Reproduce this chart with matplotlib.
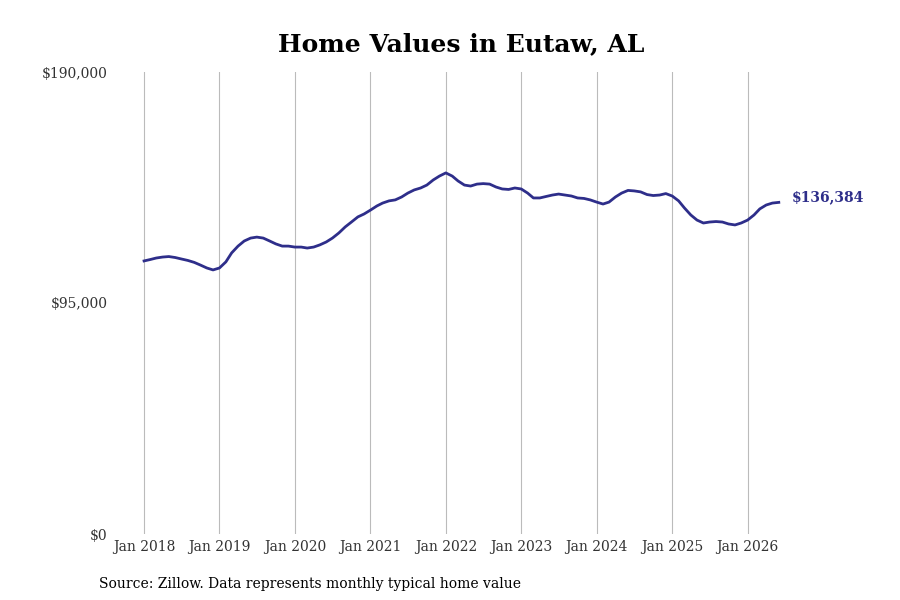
import matplotlib.pyplot as plt
import matplotlib.dates as mdates
import pandas as pd

# monthly typical home value, Jan 2018 - Jun 2026
values = [
    112300, 112900, 113500, 113900, 114100, 113700, 113100, 112500, 111700, 110600, 109400, 108600,
    109400, 111900, 115600, 118400, 120500, 121700, 122100, 121700, 120500, 119300, 118400, 118400,
    118000, 118000, 117600, 118000, 118900, 120100, 121700, 123800, 126300, 128300, 130400, 131600,
    133200, 134900, 136100, 137000, 137400, 138600, 140200, 141500, 142300, 143500, 145600, 147200,
    148500, 147200, 145200, 143500, 143100, 143900, 144100, 143900, 142700, 141900, 141700, 142300,
    141900, 140200, 138200, 138200, 138800, 139400, 139800, 139400, 139000, 138200, 138000, 137400,
    136500, 135700, 136500, 138600, 140200, 141300, 141100, 140700, 139600, 139200, 139400, 140000,
    139000, 137000, 134100, 131200, 129100, 127900, 128300, 128500, 128300, 127500, 127100, 127900,
    129100, 131200, 133700, 135300, 136100, 136384,
]
dates = pd.date_range("2018-01-01", periods=len(values), freq="MS")
years = list(range(2018, 2027))
y_ticks = [0, 95000, 190000]
y_labels = ["$0", "$95,000", "$190,000"]

line_color = "#2e2e8a"
plt.rcParams["font.family"] = ["DejaVu Serif"]

fig = plt.figure(figsize=(9, 6), dpi=100)
ax = fig.add_axes([0.13, 0.11, 0.837, 0.77])

ax.plot(dates, values, color=line_color, linewidth=2)
# label sits a little above the last point, as in the original
ax.annotate(f"${values[-1]:,}", xy=(dates[-1], values[-1]), xytext=(9.5, 4),
            textcoords="offset points", color=line_color, fontsize=10,
            fontweight="bold", va="center", ha="left")

ax.set_ylim(0, 190000)
ax.set_yticks(y_ticks)
ax.set_yticklabels(y_labels)
ax.set_xlim(pd.Timestamp("2017-08-23"), pd.Timestamp("2027-08-18"))
ax.set_xticks([pd.Timestamp(f"{y}-01-01") for y in years])
ax.xaxis.set_major_formatter(mdates.DateFormatter("Jan %Y"))

ax.grid(axis="x", color="#bbbbbb", linewidth=0.8)
ax.grid(axis="y", visible=False)
ax.set_axisbelow(True)
for s in ax.spines.values():
    s.set_visible(False)
ax.tick_params(axis="both", length=0, labelsize=10, colors="#333333")
ax.tick_params(axis="y", pad=7)
ax.tick_params(axis="x", pad=4)

fig.text(0.512, 0.927, "Home Values in Eutaw, AL", fontsize=18, fontweight="bold",
         ha="center", va="center")
fig.text(0.11, 0.02, "Source: Zillow. Data represents monthly typical home value",
         fontsize=10, color="black")

fig.savefig("out.png")
plt.close(fig)
